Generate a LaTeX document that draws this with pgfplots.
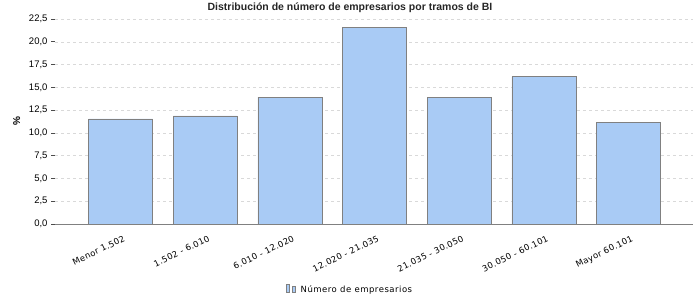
\documentclass[border=0pt]{standalone}
\usepackage{pgfplots}
\pgfplotsset{compat=1.18}
\usepackage{fontspec}
\setmainfont{Liberation Sans}
\newfontfamily\dejavu[LetterSpace=4]{DejaVu Sans}
\newfontfamily\dejavuleg[LetterSpace=6]{DejaVu Sans}
\definecolor{barfill}{HTML}{A9CBF5}
\definecolor{baredge}{HTML}{808080}
\begin{document}
\begin{tikzpicture}[x=1pt,y=1pt]
\useasboundingbox (0,0) rectangle (700,300);
\begin{axis}[
  at={(55pt,76pt)}, anchor=south west,
  scale only axis, width=638pt, height=205pt,
  xmin=-0.775, xmax=6.76, ymin=0, ymax=22.5,
  ytick={0,2.5,...,22.5},
  xtick={0,...,6},
  xticklabels={Menor 1.502, 1.502 - 6.010, 6.010 - 12.020, 12.020 - 21.035, 21.035 - 30.050, 30.050 - 60.101, Mayor 60.101},
  xticklabel style={font=\dejavu\fontsize{8.5}{9}\selectfont, rotate=26, anchor=north east, inner sep=1pt, xshift=0pt, yshift=-6pt},
  yticklabel style={font=\fontsize{9.5}{11}\selectfont, /pgf/number format/.cd, fixed, fixed zerofill, precision=1, use comma, assume math mode=true},
  axis x line*=bottom, axis y line*=left,
  y axis line style={draw=none},
  x axis line style={draw=baredge, line width=0.8pt, -},
  x tick style={draw=none},
  y tick style={draw=black!70, line width=0.6pt},
  tick align=outside, major tick length=4pt,
  ymajorgrids, grid style={dashed, color=black!15, line width=0.5pt},
  ylabel={\%}, ylabel style={at={(axis description cs:-0.06,0.5)}, anchor=center, font=\fontsize{10}{12}\selectfont\bfseries},
  legend style={at={(axis description cs:0.4624,-0.322)}, anchor=center, draw=none, font=\dejavuleg\fontsize{8.5}{10}\selectfont, inner sep=1pt},
  legend image code/.code={\draw[fill=barfill, draw=baredge, line width=0.6pt] (0pt,-3.5pt) rectangle (7pt,3.5pt);},
  legend cell align=left,
  ybar, bar width=64pt,
]
\addplot[fill=barfill, draw=baredge, line width=0.8pt] coordinates {(0,11.53) (1,11.86) (2,13.93) (3,21.54) (4,13.93) (5,16.17) (6,11.10)};
\addlegendentry{\hspace{3pt}Número de empresarios}
\end{axis}
\node[font=\fontsize{10.5}{12}\selectfont\bfseries, text=black!85, anchor=center] at (350,292.5) {Distribución de número de empresarios por tramos de BI};
\end{tikzpicture}
\end{document}
